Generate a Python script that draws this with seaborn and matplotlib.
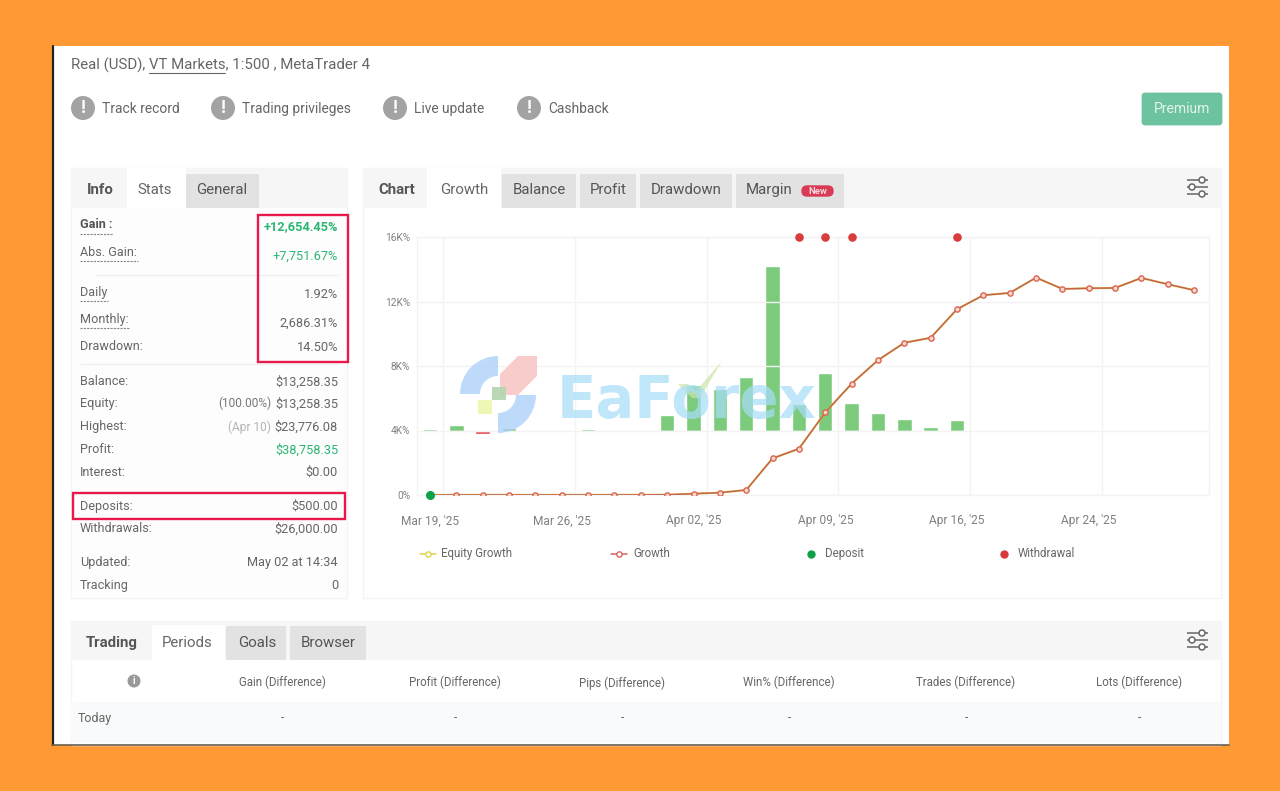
import matplotlib
matplotlib.use("Agg")
import matplotlib.pyplot as plt
from matplotlib.patches import Rectangle, FancyBboxPatch, Circle, Polygon, Wedge
from matplotlib.lines import Line2D
import numpy as np
import pandas as pd
import seaborn as sns

# ---------- data ----------
days = list(range(30))
growth = [0, 5, 5, 5, 5, 5, 5, 5, 8, 15, 80, 145, 310, 2270, 2870,
          5120, 6900, 8360, 9440, 9750, 11520, 12390, 12530, 13480, 12780,
          12820, 12840, 13460, 13070, 12700]
equity = [0, 5, 5, 5, 5, 5, 5, 5, 8, 15, 80, 145, 310, 2270, 2870,
          5120, 6900, 8360, 9440, 9750, 11520, 12390, 12530, 13480, 12780,
          12820, 12840, 13460, 13070, 12700]
profit_bars = [120, 330, -230, 160, 0, 0, 80, 0, 0, 990, 2800, 2560, 3330, 10220, 1650,
               3565, 1710, 1110, 740, 200, 660, 0, 0, 0, 0, 0, 0, 0, 0, 0]
deposit_days = [0]
deposit_vals = [0]
withdrawal_days = [14, 15, 16, 20]
withdrawal_vals = [16000, 16000, 16000, 16000]
y_ticks = [0, 4000, 8000, 12000, 16000]
y_labels = ["0%", "4K%", "8K%", "12K%", "16K%"]
x_tick_days = [0, 5, 10, 15, 20, 25]
x_labels = ["Mar 19, '25", "Mar 26, '25", "Apr 02, '25", "Apr 09, '25", "Apr 16, '25", "Apr 24, '25"]
x_grid_days = [0.5, 5.5, 10.5, 15.5, 20.5, 25.5]
legend_labels = ["Equity Growth", "Growth", "Deposit", "Withdrawal"]

stat_labels = ["Gain :", "Abs. Gain:", "Daily", "Monthly:", "Drawdown:", "Balance:", "Equity:", "Highest:",
               "Profit:", "Interest:", "Deposits:", "Withdrawals:", "Updated:", "Tracking"]
stat_values = ["+12,654.45%", "+7,751.67%", "1.92%", "2,686.31%", "14.50%", "$13,258.35", "$13,258.35",
               "$23,776.08", "$38,758.35", "$0.00", "$500.00", "$26,000.00", "May 02 at 14:34", "0"]
period_cols = ["Gain (Difference)", "Profit (Difference)", "Pips (Difference)", "Win% (Difference)",
               "Trades (Difference)", "Lots (Difference)"]

# ---------- setup ----------
sns.set_style("white")
plt.rcParams["font.family"] = ["Roboto", "DejaVu Sans"]
W, H = 1280, 791
ORANGE = "#FF9933"
TXT = "#666666"
DARK = "#555555"
GREEN = "#2bb673"
RED = "#E8184A"
GRID = "#F3F3F3"
fig = plt.figure(figsize=(W / 100, H / 100), dpi=100, facecolor=ORANGE)

bg = fig.add_axes([0, 0, 1, 1], zorder=0)
bg.set_xlim(0, W)
bg.set_ylim(H, 0)
bg.axis("off")


def rect(a, x0, y0, x1, y1, color, **kw):
    a.add_patch(Rectangle((x0, y0), x1 - x0, y1 - y0, facecolor=color, edgecolor=kw.pop("edgecolor", "none"), **kw))


def T(x, y, s, size=9, color=TXT, ha="left", weight="normal", a=None, **kw):
    (a or bg).text(x, y + 0.8, s, fontsize=size, color=color, ha=ha, va="center", fontweight=weight, **kw)


def sliders(cx, cy):
    for dy, dx in [(-7, 5), (0, -5), (7, 5)]:
        bg.plot([cx - 10.5, cx + 10.5], [cy + dy, cy + dy], color="#666666", lw=1.1, solid_capstyle="butt")
        bg.add_patch(Circle((cx + dx, cy + dy), 3, facecolor="white", edgecolor="#666666", lw=1.1, zorder=3))


# card
rect(bg, 53, 46, 1229, 745, "white")
bg.plot([52.5, 52.5], [46, 745], color="#222222", lw=1.6)
bg.plot([52, 1229], [745, 745], color="#66604f", lw=1.2)

# header
T(71, 65, "Real (USD), VT Markets, 1:500 , MetaTrader 4", 10.8)
bg.plot([149, 225], [72.5, 72.5], color=TXT, lw=0.8)
for ic, tx, s in [(83, 102, "Track record"), (223, 242, "Trading privileges"),
                  (395, 414, "Live update"), (529, 548, "Cashback")]:
    bg.add_patch(Circle((ic, 108), 12, facecolor="#a3a3a3", edgecolor="none"))
    T(ic, 107.5, "!", 13, "white", "center", "bold")
    T(tx, 108, s, 9.9)
bg.add_patch(FancyBboxPatch((1143, 94), 78, 30, boxstyle="round,pad=0,rounding_size=2",
                            facecolor="#6DC3A0", edgecolor="#6DC3A0", lw=2))
T(1182, 108.5, "Premium", 10, "#E4F5EC", "center")

# left panel
rect(bg, 71, 168, 347, 598, "#FDFDFD", edgecolor="#F4F4F4", lw=1)
rect(bg, 71, 168, 347, 208, "#F6F6F6")
rect(bg, 127, 168, 186, 208, "white")
rect(bg, 186, 174, 259, 208, "#E2E2E2")
T(100, 189, "Info", 10.8, "#555555", "center", "bold")
T(155, 189, "Stats", 10.8, TXT, "center")
T(222, 189, "General", 10.8, DARK, "center")

label_y = [224, 252, 292, 319, 346, 381, 403, 426, 449, 472, 506, 528, 562, 585]
value_y = [226, 255, 294, 322, 347, 381, 403, 426, 449, 472, 506, 528, 562, 585]
for i, (lab, val, ly, vy) in enumerate(zip(stat_labels, stat_values, label_y, value_y)):
    col = GREEN if i in (0, 1, 8) else TXT
    T(80, ly, lab, 9.1, "#555555" if i == 0 else TXT, weight="bold" if i == 0 else "normal")
    T(338, vy, val, 9.2, col, "right", weight="bold" if i == 0 else "normal")
for y0, x1 in [(234, 113), (261, 138), (301, 108), (328, 130)]:
    bg.plot([80, x1], [y0, y0], color="#888888", lw=0.8, ls=(0, (2, 1)))
T(271, 403, "(100.00%)", 8.6, "#777777", "right")
T(271, 426, "(Apr 10)", 8.6, "#b5b5b5", "right")
bg.plot([95, 338], [275, 275], color="#F0F0F0", lw=1)
bg.plot([80, 338], [364, 364], color="#F0F0F0", lw=1)
for (x0, y0, x1, y1) in [(257.5, 214.5, 348, 362), (73, 493, 345, 519)]:
    bg.add_patch(Rectangle((x0, y0), x1 - x0, y1 - y0, fill=False, edgecolor=RED, lw=1.7, zorder=4))

# chart panel
rect(bg, 363, 168, 1221, 598, "white", edgecolor="#F4F4F4", lw=1)
rect(bg, 363, 168, 1221, 208, "#F6F6F6")
rect(bg, 427, 168, 501, 208, "white")
T(397, 189, "Chart", 10.8, "#555555", "center", "bold")
T(464, 189, "Growth", 10.8, TXT, "center")
for x0, x1, s, tx in [(502, 576, "Balance", 539), (580, 636, "Profit", 608),
                      (640, 732, "Drawdown", 686), (736, 844, "Margin", 769)]:
    rect(bg, x0, 174, x1, 208, "#E2E2E2")
    T(tx, 189, s, 10.8, DARK, "center")
bg.add_patch(FancyBboxPatch((802, 186), 31, 10, boxstyle="round,pad=0,rounding_size=5",
                            facecolor="#D93A55", edgecolor="#D93A55", lw=1))
T(817.5, 190.5, "New", 6.8, "#F7D5DC", "center", "bold")
sliders(1197, 187)

# legend row
for lx, tx, lab, col, kind in [(428, 441, legend_labels[0], "#DDD54A", "line"), (619, 633, legend_labels[1], "#D9655F", "line"),
                               (811, 825, legend_labels[2], "#0FA14A", "dot"), (1004, 1018, legend_labels[3], "#D63A3A", "dot")]:
    if kind == "line":
        bg.add_line(Line2D([lx - 8, lx, lx + 8], [553.5, 553.5, 553.5], color=col, lw=1.1, marker="o", ms=3.8,
                           mfc="white", mec=col, mew=1, markevery=[1]))
    else:
        bg.add_line(Line2D([lx], [553.5], color=col, marker="o", ms=5, ls="none"))
    T(tx, 553, lab, 8.3)

# bottom panel
rect(bg, 71, 621, 1221, 745, "white", edgecolor="#F4F4F4", lw=1)
rect(bg, 71, 621, 1221, 660, "#F6F6F6")
rect(bg, 152, 625, 225, 660, "white")
rect(bg, 71, 702, 1221, 743, "#F8FAFB")
rect(bg, 226, 626, 286, 660, "#E2E2E2")
rect(bg, 290, 626, 366, 660, "#E2E2E2")
T(112, 642, "Trading", 10.8, "#555555", "center", "bold")
T(187.5, 642, "Periods", 10.8, TXT, "center")
T(257, 642, "Goals", 10.8, DARK, "center")
T(328, 642, "Browser", 10.8, DARK, "center")
sliders(1197, 640)
bg.add_patch(Circle((134, 681), 6.5, facecolor="#999999", edgecolor="none"))
T(134, 680, "i", 7, "white", "center", "bold")
T(78, 717.5, "Today", 9)
for cx, lab in zip([282, 455, 622, 789, 966, 1139], period_cols):
    T(cx, 682, lab, 8.3, TXT, "center")
    T(cx, 717, "-", 8.3, TXT, "center")

# ---------- chart ----------
L, R, TOP, BOT = 417, 1209, 237, 495
ax = fig.add_axes([L / W, 1 - BOT / H, (R - L) / W, (BOT - TOP) / H], zorder=2)
ax.patch.set_visible(False)
ax2 = fig.add_axes([L / W, 1 - BOT / H, (R - L) / W, (BOT - TOP) / H], zorder=1)
ax2.patch.set_visible(False)

bars = pd.DataFrame({"day": days, "profit": profit_bars})
bars["kind"] = np.where(bars["profit"] < 0, "loss", "gain")
sns.barplot(data=bars, x="day", y="profit", hue="kind", native_scale=True, dodge=False,
            palette={"gain": "#7CCB7C", "loss": "#DD3B42"}, width=0.55, legend=False, ax=ax2, saturation=1)
ax2.set_ylim(-4000, 12000)

sns.lineplot(x=days, y=equity, color="#DDC04A", lw=1.5, ax=ax, zorder=3, errorbar=None)
sns.lineplot(x=days, y=growth, color="#C4604F", lw=1.0, marker="o", ms=3.8, mfc="#F7D8CC", mec="#DB6450",
             mew=1.0, ax=ax, zorder=4, errorbar=None)
sns.scatterplot(x=deposit_days, y=deposit_vals, color="#0FA14A", s=42, ax=ax, zorder=6, clip_on=False, linewidth=0)
sns.scatterplot(x=withdrawal_days, y=withdrawal_vals, color="#DA3B3B", s=38, ax=ax, zorder=6, clip_on=False, linewidth=0)

x0 = 430
step = 26.35
for a in (ax, ax2):
    a.set_xlim((L - x0) / step, (R - x0) / step)
    a.set_xlabel("")
    a.set_ylabel("")
ax.set_ylim(0, 16000)
ax.set_yticks(y_ticks, y_labels)
ax.set_xticks(x_tick_days, x_labels)
ax.set_xticks(x_grid_days, minor=True)
ax.tick_params(axis="y", length=0, pad=5, labelsize=7.3, labelcolor="#808080")
ax.tick_params(axis="x", which="major", length=0, pad=14, labelsize=8.6, labelcolor="#808080")
ax.tick_params(axis="x", which="minor", length=0)
ax.grid(True, axis="y", color=GRID, lw=1)
ax.grid(True, axis="x", which="minor", color=GRID, lw=1)
ax.grid(False, axis="x", which="major")
ax.set_axisbelow(True)
for s in ax.spines.values():
    s.set_color(GRID)
    s.set_linewidth(1)
ax2.set_xticks([])
ax2.set_yticks([])
for s in ax2.spines.values():
    s.set_visible(False)

# ---------- watermark ----------
wm = fig.add_axes([0, 0, 1, 1], zorder=3)
wm.set_xlim(0, W)
wm.set_ylim(H, 0)
wm.axis("off")
wm.patch.set_visible(False)
wm.add_patch(Wedge((498, 394), 38, 180, 270, width=20, facecolor="#A9CEFA", alpha=0.75, edgecolor="none"))
wm.add_patch(Wedge((498, 395), 38, 0, 90, width=20, facecolor="#A9CEFA", alpha=0.75, edgecolor="none"))
wm.add_patch(Polygon([(500, 374), (518, 356), (537, 356), (537, 376), (518, 395), (500, 395)], closed=True,
                     facecolor="#F9C4C4", alpha=0.85, edgecolor="none"))
wm.add_patch(Rectangle((492, 387), 14, 13, facecolor="#B4D4AE", alpha=0.9, edgecolor="none"))
wm.add_patch(Rectangle((478, 400), 14, 14, facecolor="#EEF5AE", alpha=0.9, edgecolor="none"))
wm.text(557, 418, "EaForex", fontsize=41.5, color="#A8DDF8", alpha=0.72, ha="left", va="baseline",
        fontweight="bold", family="DejaVu Sans")
wm.add_patch(Polygon([(678, 384), (688, 384), (696, 391), (722, 361), (700, 398), (692, 398)], closed=True,
                     facecolor="#C9E6A6", alpha=0.7, edgecolor="none"))

fig.savefig("out.png", dpi=100, facecolor=ORANGE)
